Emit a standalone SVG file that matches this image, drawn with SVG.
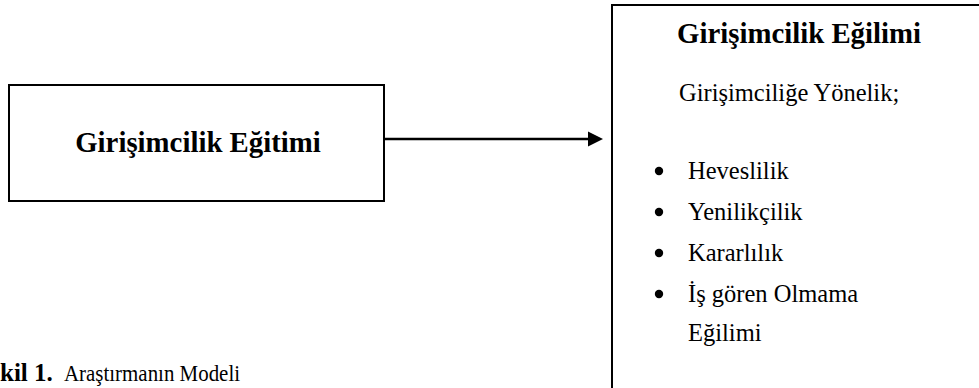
<svg xmlns="http://www.w3.org/2000/svg" width="979" height="388" viewBox="0 0 979 388">
<style>
.box{fill:#fff;stroke:#000;stroke-width:2}
.b{font-family:"Liberation Serif","Times New Roman",serif;font-weight:bold;fill:#000}
.r{font-family:"Liberation Serif","Times New Roman",serif;fill:#000}
.dot{fill:#000}
</style>
<rect width="979" height="388" fill="#fff"/>
<g id="connectors">
<line x1="384" y1="139" x2="590" y2="139" stroke="#000" stroke-width="2.5"/>
<path d="M588,131.5 L603,139 L588,146.5 Z" fill="#000"/>
</g>
<g id="node-egitim">
<rect class="box" x="9" y="85" width="375" height="116"/>
<text class="b" x="198" y="152" font-size="28.8" text-anchor="middle">Girişimcilik Eğitimi</text>
</g>
<g id="node-egilim">
<rect class="box" x="612" y="5" width="380" height="400"/>
<text class="b" x="799" y="43" font-size="28.8" text-anchor="middle">Girişimcilik Eğilimi</text>
<text class="r" x="679" y="101" font-size="24.5">Girişimciliğe Yönelik;</text>
<g class="r" font-size="24.5">
<circle class="dot" cx="659" cy="171" r="4.2"/>
<text x="688" y="179">Heveslilik</text>
<circle class="dot" cx="659" cy="212" r="4.2"/>
<text x="688" y="220">Yenilikçilik</text>
<circle class="dot" cx="659" cy="253" r="4.2"/>
<text x="688" y="261">Kararlılık</text>
<circle class="dot" cx="659" cy="294" r="4.2"/>
<text x="688" y="302">İş gören Olmama</text>
<text x="688" y="341">Eğilimi</text>
</g>
</g>
<g id="caption">
<text class="b" x="0" y="381" font-size="25">kil 1.</text>
<text class="r" x="64" y="381" font-size="23" textLength="176" lengthAdjust="spacingAndGlyphs">Araştırmanın Modeli</text>
</g>
</svg>
